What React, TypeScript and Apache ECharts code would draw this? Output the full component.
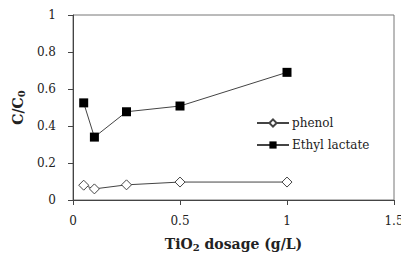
import React, { useEffect, useRef } from "react";
import * as echarts from "echarts";

const dosage = [0.05, 0.1, 0.25, 0.5, 1];
const phenol = [0.08, 0.06, 0.082, 0.097, 0.097];
const ethylLactate = [0.525, 0.34, 0.477, 0.508, 0.69];
const seriesNames = ["phenol", "Ethyl lactate"];

const FONT = "DejaVu Serif";

export default function App() {
  const ref = useRef<HTMLDivElement>(null);
  useEffect(() => {
    const chart = echarts.init(ref.current!, null, { renderer: "svg" });
    const toPairs = (ys: number[]) => dosage.map((x, i) => [x, ys[i]]);
    chart.setOption({
      animation: false,
      backgroundColor: "#fff",
      textStyle: { fontFamily: FONT },
      grid: {
        left: 73,
        top: 15,
        right: 7,
        bottom: 55,
        outerBoundsMode: "none",
        containLabel: false,
        show: true,
        borderColor: "#777",
        borderWidth: 1,
      },
      legend: {
        left: 251,
        top: 112,
        orient: "vertical",
        itemWidth: 32,
        itemHeight: 9,
        itemGap: 10,
        data: seriesNames,
        textStyle: { fontFamily: FONT, fontSize: 12, color: "#222", padding: [0, 0, 0, -2] },
      },
      xAxis: {
        type: "value",
        min: 0,
        max: 1.5,
        interval: 0.5,
        splitLine: { show: false },
        axisLine: { lineStyle: { color: "#444" } },
        axisTick: { show: true, length: 5, lineStyle: { color: "#444" } },
        axisLabel: {
          fontFamily: FONT,
          fontSize: 12,
          color: "#222",
          margin: 15,
          formatter: (v: number) => String(v),
        },
        name: "{a|TiO}{b|2}{a| dosage (g/L)}",
        nameLocation: "middle",
        nameGap: 35,
        nameTextStyle: {
          fontFamily: FONT,
          rich: {
            a: { fontFamily: FONT, fontSize: 14, fontWeight: "bold", color: "#222" },
            b: { fontFamily: FONT, fontSize: 10, fontWeight: "bold", color: "#222", padding: [7, 0, 0, 0] },
          },
        },
      },
      yAxis: {
        type: "value",
        min: 0,
        max: 1,
        interval: 0.2,
        splitLine: { show: false },
        axisLine: { show: true, lineStyle: { color: "#444" } },
        axisTick: { show: true, length: 5, lineStyle: { color: "#444" } },
        axisLabel: {
          fontFamily: FONT,
          fontSize: 12,
          color: "#222",
          margin: 17,
          formatter: (v: number) => String(Math.round(v * 10) / 10),
        },
        name: "{a|C/C}{b|0}",
        nameLocation: "middle",
        nameRotate: 90,
        nameGap: 46,
        nameTextStyle: {
          fontFamily: FONT,
          rich: {
            a: { fontFamily: FONT, fontSize: 14, fontWeight: "bold", color: "#222" },
            b: { fontFamily: FONT, fontSize: 10, fontWeight: "bold", color: "#222", padding: [7, 0, 0, 0] },
          },
        },
      },
      series: [
        {
          name: seriesNames[0],
          type: "line",
          data: toPairs(phenol),
          symbol: "diamond",
          symbolSize: 10,
          lineStyle: { color: "#444", width: 1 },
          itemStyle: { color: "#fff", borderColor: "#444", borderWidth: 1 },
        },
        {
          name: seriesNames[1],
          type: "line",
          data: toPairs(ethylLactate),
          symbol: "rect",
          symbolSize: 9,
          lineStyle: { color: "#444", width: 1 },
          itemStyle: { color: "#000", borderColor: "#000", borderWidth: 0 },
        },
      ],
    });
    return () => chart.dispose();
  }, []);
  return <div ref={ref} style={{ width: 401, height: 255, position: "absolute", left: 0, top: 0 }} />;
}
